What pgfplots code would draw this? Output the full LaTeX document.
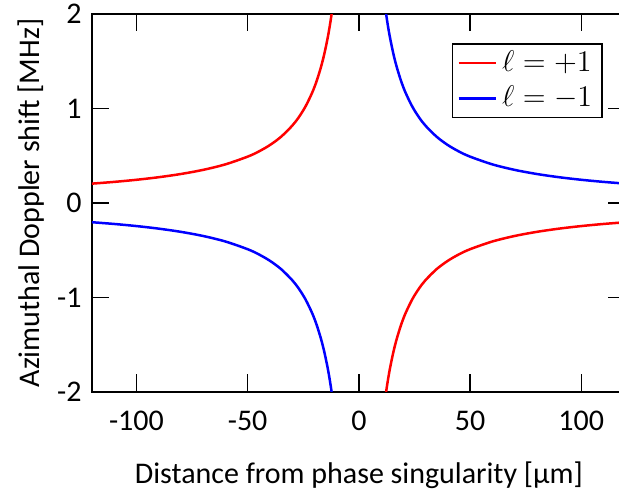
\documentclass[12pt,border=0pt]{standalone}
\usepackage{fontspec}
\setmainfont{Carlito}
\usepackage{pgfplots}
\pgfplotsset{compat=1.18}
\begin{document}
\begin{tikzpicture}
\begin{axis}[
  scale only axis,
  width=213.6pt, height=151.2pt,
  xmin=-120, xmax=120, ymin=-2, ymax=2,
  xtick={-100,-50,0,50,100},
  xticklabels={-100,-50,0,50,100},
  ytick={-2,-1,0,1,2},
  yticklabels={-2,-1,0,1,2},
  tick align=inside,
  major tick length=7pt,
  axis line style={line width=0.6pt},
  every tick/.style={black, line width=0.6pt},
  xticklabel style={yshift=-3.4pt},
  xlabel style={yshift=-4.4pt},
  ylabel style={yshift=-3pt},
  xlabel={Distance from phase singularity [µm]},
  ylabel={Azimuthal Doppler shift [MHz]},
  unbounded coords=jump,
  legend style={at={(0.957,0.923)}, anchor=north east, draw=black, line width=0.6pt,
    font=\fontsize{12}{13}\selectfont, inner xsep=2pt, inner ysep=0.6pt, row sep=0pt},
  legend cell align=left,
  legend image code/.code={\draw[#1, line width=1pt] (0pt,0pt) -- (15pt,0pt);},
]
\addplot[red, line width=1pt, smooth] coordinates {
(-120,0.2042) (-110,0.2227) (-100,0.245) (-90,0.2722) (-80,0.3063) (-70,0.35)
(-60,0.4083) (-50,0.49) (-45,0.5444) (-40,0.6125) (-35,0.7) (-30,0.8167)
(-27,0.9074) (-24,1.0208) (-21,1.1667) (-19,1.2895) (-17,1.4412) (-15.5,1.5806)
(-14,1.75) (-13,1.8846) (-12.25,2.0)
(0,nan)
(12.25,-2.0) (13,-1.8846) (14,-1.75) (15.5,-1.5806) (17,-1.4412) (19,-1.2895)
(21,-1.1667) (24,-1.0208) (27,-0.9074) (30,-0.8167) (35,-0.7) (40,-0.6125)
(45,-0.5444) (50,-0.49) (60,-0.4083) (70,-0.35) (80,-0.3063) (90,-0.2722)
(100,-0.245) (110,-0.2227) (120,-0.2042)
};
\addlegendentry{$\ell = +1$}
\addplot[blue, line width=1pt, smooth] coordinates {
(-120,-0.2042) (-110,-0.2227) (-100,-0.245) (-90,-0.2722) (-80,-0.3063) (-70,-0.35)
(-60,-0.4083) (-50,-0.49) (-45,-0.5444) (-40,-0.6125) (-35,-0.7) (-30,-0.8167)
(-27,-0.9074) (-24,-1.0208) (-21,-1.1667) (-19,-1.2895) (-17,-1.4412) (-15.5,-1.5806)
(-14,-1.75) (-13,-1.8846) (-12.25,-2.0)
(0,nan)
(12.25,2.0) (13,1.8846) (14,1.75) (15.5,1.5806) (17,1.4412) (19,1.2895)
(21,1.1667) (24,1.0208) (27,0.9074) (30,0.8167) (35,0.7) (40,0.6125)
(45,0.5444) (50,0.49) (60,0.4083) (70,0.35) (80,0.3063) (90,0.2722)
(100,0.245) (110,0.2227) (120,0.2042)
};
\addlegendentry{$\ell = -1$}
\end{axis}
\pgfresetboundingbox
\useasboundingbox ([shift={(-36.8pt,-38.8pt)}]current axis.south west) rectangle ([shift={(-2.7pt,5.6pt)}]current axis.north east);
\end{tikzpicture}
\end{document}
